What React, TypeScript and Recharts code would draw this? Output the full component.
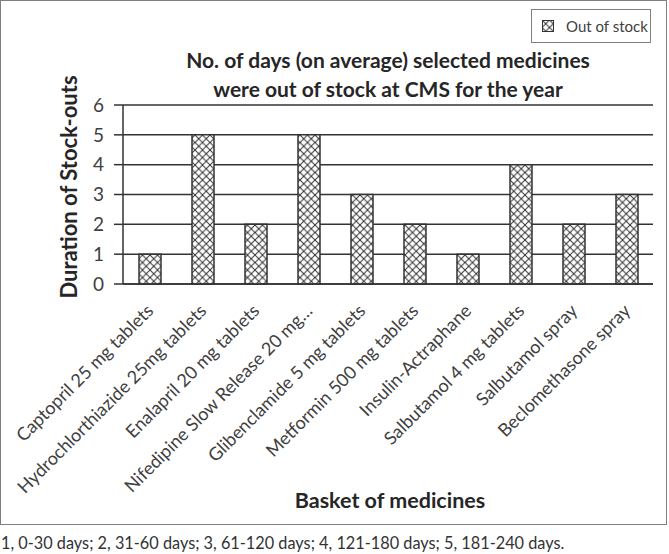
import React from 'react';
import { BarChart, Bar, XAxis, YAxis, CartesianGrid } from 'recharts';

const medicines = [
  'Captopril 25 mg tablets',
  'Hydrochlorthiazide 25mg tablets',
  'Enalapril 20 mg tablets',
  'Nifedipine Slow Release 20 mg…',
  'Glibenclamide 5 mg tablets',
  'Metformin 500 mg tablets',
  'Insulin-Actraphane',
  'Salbutamol 4 mg tablets',
  'Salbutamol spray',
  'Beclomethasone spray',
];
const outOfStock = [1, 5, 2, 5, 3, 2, 1, 4, 2, 3];
const yTicks = [0, 1, 2, 3, 4, 5, 6];
const titleLines = ['No. of days (on average) selected medicines', 'were out of stock at CMS for the year'];
const footnote = '1, 0-30 days; 2, 31-60 days; 3, 61-120 days; 4, 121-180 days; 5, 181-240 days.';

const data = medicines.map((name, i) => ({ name, value: outOfStock[i] }));

const FONT = 'Lato, "Open Sans", sans-serif';
const INK = '#333333';

const HatchDefs = ({ id }: { id: string }) => (
  <defs>
    <pattern id={id} patternUnits="userSpaceOnUse" width="7.5" height="7.5">
      <rect width="7.5" height="7.5" fill="#fff" />
      <path d="M0,0 L7.5,7.5 M7.5,0 L0,7.5" stroke={INK} strokeWidth="1" />
    </pattern>
  </defs>
);

// rotated category labels, ending just under the bar
const MedTick = ({ x, y, payload }: any) => (
  <g transform={`translate(${x + 5},${y + 20})`}>
    <text textAnchor="end" transform="rotate(-45)" fill="#404040" fontSize={18} fontFamily={FONT}>
      {payload.value}
    </text>
  </g>
);

const bold = { fontFamily: FONT, fontWeight: 700, color: '#262626' } as const;

export default function App() {
  return (
    <div style={{ position: 'absolute', left: 0, top: 0, width: 669, height: 554, background: '#fff' }}>
      {/* outer frame */}
      <div style={{ position: 'absolute', left: 0, top: 0, width: 665, height: 523, border: '1px solid #7f7f7f' }} />

      <BarChart
        width={669}
        height={527}
        data={data}
        margin={{ top: 105, right: 16, left: 0, bottom: 0 }}
        barSize={22}
        style={{ position: 'absolute', left: 0, top: 0 }}
      >
        <HatchDefs id="hatch" />
        <CartesianGrid vertical={false} stroke={INK} strokeWidth={1.5} />
        <XAxis
          dataKey="name"
          interval={0}
          height={243}
          tickLine={false}
          axisLine={{ stroke: INK, strokeWidth: 1.5 }}
          tick={<MedTick />}
        />
        <YAxis
          width={123}
          domain={[0, 6]}
          ticks={yTicks}
          interval={0}
          tickSize={9}
          tickMargin={10}
          axisLine={{ stroke: INK, strokeWidth: 1.5 }}
          tickLine={{ stroke: INK, strokeWidth: 1.5 }}
          tick={{ fill: '#404040', fontSize: 19, fontFamily: FONT }}
        />
        <YAxis
          yAxisId="frame"
          orientation="right"
          width={0}
          domain={[0, 6]}
          tick={false}
          tickLine={false}
          axisLine={{ stroke: INK, strokeWidth: 1.5 }}
        />
        <Bar dataKey="value" name="Out of stock" fill="url(#hatch)" stroke={INK} strokeWidth={1.5} isAnimationActive={false} />
      </BarChart>

      {/* legend */}
      <div
        style={{
          position: 'absolute',
          left: 531,
          top: 9,
          width: 120,
          height: 34,
          border: '1px solid #7f7f7f',
          background: '#fff',
          display: 'flex',
          alignItems: 'center',
          paddingLeft: 10,
          boxSizing: 'border-box',
          whiteSpace: 'nowrap',
          fontFamily: FONT,
          fontSize: 15,
          color: '#404040',
        }}
      >
        <svg width={12} height={12} style={{ marginRight: 12, flexShrink: 0 }}>
          <HatchDefs id="hatch-legend" />
          <rect x={0.5} y={0.5} width={11} height={11} fill="url(#hatch-legend)" stroke={INK} />
        </svg>
        Out of stock
      </div>

      {/* chart title */}
      <div
        style={{
          ...bold,
          position: 'absolute',
          left: 123,
          width: 530,
          top: 45,
          textAlign: 'center',
          fontSize: 21,
          lineHeight: '29px',
        }}
      >
        {titleLines.map((t) => (
          <div key={t}>{t}</div>
        ))}
      </div>

      {/* y axis title */}
      <div
        style={{
          ...bold,
          position: 'absolute',
          left: 68,
          top: 187,
          transform: 'translate(-50%, -50%) rotate(-90deg)',
          whiteSpace: 'nowrap',
          fontSize: 22,
        }}
      >
        Duration of Stock-outs
      </div>

      {/* x axis title */}
      <div
        style={{
          ...bold,
          position: 'absolute',
          left: 390,
          top: 500,
          transform: 'translate(-50%, -50%)',
          whiteSpace: 'nowrap',
          fontSize: 21.5,
        }}
      >
        Basket of medicines
      </div>

      {/* footnote */}
      <div
        style={{
          position: 'absolute',
          left: 1,
          top: 533,
          whiteSpace: 'nowrap',
          fontFamily: FONT,
          fontSize: 16.3,
          lineHeight: '20px',
          color: '#333',
        }}
      >
        {footnote}
      </div>
    </div>
  );
}
